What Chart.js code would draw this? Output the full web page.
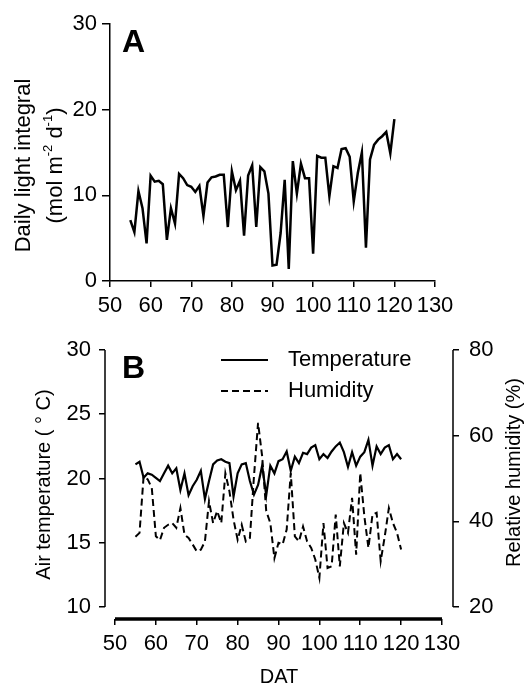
<!DOCTYPE html>
<html>
<head>
<meta charset="utf-8">
<script src="https://cdn.jsdelivr.net/npm/chart.js@4.4.1/dist/chart.umd.min.js"></script>
<style>
  html, body { margin: 0; padding: 0; background: #fff; }
  #wrap { position: relative; width: 527px; height: 686px; }
  canvas { position: absolute; left: 0; }
  #chartA { top: 0; }
  #chartB { top: 320px; }
</style>
</head>
<body>
<div id="wrap">
  <canvas id="chartA" width="527" height="320"></canvas>
  <canvas id="chartB" width="527" height="366"></canvas>
</div>
<script>
// days after transplanting
const days = [55, 56, 57, 58, 59, 60, 61, 62, 63, 64, 65, 66, 67, 68, 69, 70, 71, 72, 73, 74,
  75, 76, 77, 78, 79, 80, 81, 82, 83, 84, 85, 86, 87, 88, 89, 90, 91, 92, 93, 94,
  95, 96, 97, 98, 99, 100, 101, 102, 103, 104, 105, 106, 107, 108, 109, 110, 111, 112, 113, 114,
  115, 116, 117, 118, 119, 120];

// panel A: daily light integral (mol m-2 d-1)
const dli = [7.1, 5.7, 10.5, 8.5, 4.4, 12.3, 11.6, 11.7, 11.3, 4.8,
  8.5, 6.7, 12.5, 12.0, 11.2, 11.0, 10.4, 11.1, 7.6, 11.5,
  12.1, 12.2, 12.4, 12.4, 6.3, 12.8, 10.6, 11.7, 5.3, 12.3,
  13.5, 6.3, 13.3, 12.8, 10.2, 1.8, 1.9, 5.6, 11.8, 1.4,
  14.0, 10.2, 13.7, 12.0, 12.0, 3.2, 14.6, 14.4, 14.4, 9.9,
  13.4, 13.2, 15.4, 15.5, 14.5, 9.3, 12.6, 15.0, 3.9, 14.2,
  15.9, 16.5, 16.9, 17.4, 14.9, 18.9];

// panel B: air temperature (C) and relative humidity (%)
const temperature = [21.1, 21.3, 20.05, 20.4, 20.3, 20.05, 19.8, 20.4, 21.0, 20.4,
  20.8, 19.1, 20.4, 18.7, 19.4, 19.9, 20.6, 18.4, 19.8, 21.1,
  21.4, 21.5, 21.3, 21.2, 18.6, 20.4, 21.1, 21.2, 19.8, 18.75,
  19.5, 21.0, 18.7, 21.0, 20.4, 21.35, 21.5, 22.1, 20.6, 21.7,
  21.2, 22.0, 21.9, 22.4, 22.6, 21.5, 21.9, 21.6, 22.1, 22.5,
  22.8, 22.05, 20.9, 22.05, 21.0, 21.7, 22.05, 23.0, 21.0, 22.5,
  21.9, 22.4, 22.6, 21.5, 21.9, 21.5];

const humidity = [36.4, 37.3, 50.5, 49.8, 47.8, 36.5, 35.6, 38.5, 39.2, 39.6,
  38.5, 43.1, 36.9, 36.1, 34.6, 33.0, 33.4, 35.3, 44.7, 39.6,
  42.4, 39.6, 51.2, 47.0, 40.4, 35.7, 39.2, 35.3, 36.1, 50.5,
  63.0, 55.2, 42.4, 39.6, 31.4, 35.0, 34.6, 38.1, 51.3, 36.5,
  35.3, 38.8, 35.3, 33.8, 31.1, 26.8, 39.6, 29.1, 29.5, 41.6,
  29.5, 39.6, 37.3, 45.5, 32.2, 51.3, 41.2, 33.8, 41.6, 42.0,
  30.7, 36.5, 43.1, 39.6, 37.3, 33.4];

const dayTicks = [50, 60, 70, 80, 90, 100, 110, 120, 130];
const dliTicks = [0, 10, 20, 30];
const tempTicks = [10, 15, 20, 25, 30];
const humTicks = [20, 40, 60, 80];

const FAMILY = "'Liberation Sans', Arial, sans-serif";
const INK = '#000';

const toPoints = (ys) => days.map((d, i) => ({ x: d, y: ys[i] }));
const setTicks = (list) => (s) => { s.ticks = list.map(v => ({ value: v })); };

// panel letter (A / B)
const letterPlugin = (letter, dx, dy) => ({
  id: 'letter' + letter,
  afterDraw(chart) {
    const { ctx, chartArea } = chart;
    ctx.save();
    ctx.font = 'bold 32px ' + FAMILY;
    ctx.fillStyle = INK;
    ctx.textBaseline = 'alphabetic';
    ctx.fillText(letter, chartArea.left + dx, chartArea.top + dy);
    ctx.restore();
  }
});

// rotated title with superscripts, reading bottom to top
function drawRotated(ctx, lines, cx, cy, size, gap) {
  ctx.save();
  ctx.translate(cx, cy);
  ctx.rotate(-Math.PI / 2);
  ctx.fillStyle = INK;
  ctx.textBaseline = 'middle';
  ctx.textAlign = 'left';
  lines.forEach((parts, li) => {
    let total = 0;
    parts.forEach(p => {
      ctx.font = (p.sup ? Math.round(size * 0.6) : size) + 'px ' + FAMILY;
      total += ctx.measureText(p.t).width;
    });
    let x = -total / 2;
    parts.forEach(p => {
      ctx.font = (p.sup ? Math.round(size * 0.6) : size) + 'px ' + FAMILY;
      ctx.fillText(p.t, x, li * gap + (p.sup ? -size * 0.33 : 0));
      x += ctx.measureText(p.t).width;
    });
  });
  ctx.restore();
}

const dliTitle = {
  id: 'dliTitle',
  afterDraw(chart) {
    const { ctx, chartArea } = chart;
    drawRotated(ctx, [
      [{ t: 'Daily light integral' }],
      [{ t: '(mol m' }, { t: '-2', sup: true }, { t: ' d' }, { t: '-1', sup: true }, { t: ')' }]
    ], 24, (chartArea.top + chartArea.bottom) / 2 + 13, 22, 32);
  }
};

new Chart(document.getElementById('chartA'), {
  type: 'line',
  data: {
    datasets: [{
      label: 'DLI',
      data: toPoints(dli),
      borderColor: INK,
      borderWidth: 2.5,
      borderJoinStyle: 'miter',
      pointRadius: 0,
      tension: 0
    }]
  },
  options: {
    responsive: false,
    animation: false,
    devicePixelRatio: 1,
    layout: { padding: { top: 24, right: 92, left: 0, bottom: 0 } },
    plugins: { legend: { display: false }, tooltip: { enabled: false } },
    scales: {
      x: {
        type: 'linear', min: 50, max: 130,
        afterBuildTicks: setTicks(dayTicks),
        afterFit: (s) => { s.height = 39; },
        border: { display: true, color: INK, width: 1.5 },
        grid: { drawOnChartArea: false, tickLength: 6, color: INK, lineWidth: 1.5 },
        ticks: { font: { family: FAMILY, size: 22 }, color: INK, padding: 6, maxRotation: 0, autoSkip: false }
      },
      y: {
        type: 'linear', min: 0, max: 30,
        afterBuildTicks: setTicks(dliTicks),
        afterFit: (s) => { s.width = 110; },
        border: { display: true, color: INK, width: 1.5 },
        grid: { drawOnChartArea: false, tickLength: 8, color: INK, lineWidth: 1.5 },
        ticks: { font: { family: FAMILY, size: 22 }, color: INK, padding: 5 }
      }
    }
  },
  plugins: [letterPlugin('A', 12, 28), dliTitle]
});

// axis lines, legend and right title for panel B
const panelB = {
  id: 'panelB',
  afterDraw(chart) {
    const { ctx, chartArea, scales } = chart;
    const { x, y, y1 } = scales;
    ctx.save();
    ctx.strokeStyle = INK;
    ctx.lineCap = 'butt';
    ctx.lineWidth = 1.5;
    ctx.beginPath();
    ctx.moveTo(chartArea.left, y.getPixelForValue(tempTicks[0]));
    ctx.lineTo(chartArea.left, y.getPixelForValue(tempTicks[tempTicks.length - 1]));
    ctx.moveTo(chartArea.right, y1.getPixelForValue(humTicks[0]));
    ctx.lineTo(chartArea.right, y1.getPixelForValue(humTicks[humTicks.length - 1]));
    ctx.stroke();
    ctx.lineWidth = 3.5;
    ctx.beginPath();
    ctx.moveTo(x.getPixelForValue(dayTicks[0]), chartArea.bottom);
    ctx.lineTo(x.getPixelForValue(dayTicks[dayTicks.length - 1]), chartArea.bottom);
    ctx.stroke();

    // legend
    chart.data.datasets.forEach((ds, i) => {
      const ly = chartArea.top + 10 + i * 31;
      ctx.lineWidth = ds.borderWidth;
      ctx.setLineDash(ds.borderDash || []);
      ctx.beginPath();
      ctx.moveTo(221, ly);
      ctx.lineTo(268, ly);
      ctx.stroke();
      ctx.setLineDash([]);
      ctx.font = '22px ' + FAMILY;
      ctx.fillStyle = INK;
      ctx.textBaseline = 'middle';
      ctx.fillText(ds.label, 288, ly);
    });
    ctx.restore();

    drawRotated(ctx, [[{ t: 'Relative humidity (%)' }]], 514,
      (y1.getPixelForValue(humTicks[0]) + y1.getPixelForValue(humTicks[humTicks.length - 1])) / 2 - 6, 20, 0);
  }
};

new Chart(document.getElementById('chartB'), {
  type: 'line',
  data: {
    datasets: [{
      label: 'Temperature',
      data: toPoints(temperature),
      yAxisID: 'y',
      borderColor: INK,
      borderWidth: 2.2,
      borderJoinStyle: 'miter',
      pointRadius: 0,
      tension: 0
    }, {
      label: 'Humidity',
      data: toPoints(humidity),
      yAxisID: 'y1',
      borderColor: INK,
      borderWidth: 2,
      borderDash: [7, 4],
      borderJoinStyle: 'miter',
      pointRadius: 0,
      tension: 0
    }]
  },
  options: {
    responsive: false,
    animation: false,
    devicePixelRatio: 1,
    layout: { padding: { top: 30, right: 0, left: 0, bottom: 0 } },
    plugins: { legend: { display: false }, tooltip: { enabled: false } },
    scales: {
      x: {
        type: 'linear', min: 47.554, max: 132.691,
        afterBuildTicks: setTicks(dayTicks),
        afterFit: (s) => { s.height = 67; },
        border: { display: false },
        grid: { drawOnChartArea: false, tickLength: 6, color: INK, lineWidth: 1.5 },
        ticks: { font: { family: FAMILY, size: 22 }, color: INK, padding: 6, maxRotation: 0, autoSkip: false },
        title: { display: true, text: 'DAT', font: { family: FAMILY, size: 20 }, color: INK, padding: { top: 0, bottom: -3 } }
      },
      y: {
        type: 'linear', position: 'left', min: 9.066, max: 30,
        afterBuildTicks: setTicks(tempTicks),
        afterFit: (s) => { s.width = 105; },
        border: { display: false },
        grid: { drawOnChartArea: false, tickLength: 6, color: INK, lineWidth: 1.5 },
        ticks: { font: { family: FAMILY, size: 22 }, color: INK, padding: 8 },
        title: { display: true, text: 'Air temperature ( \u00b0 C)', font: { family: FAMILY, size: 20 }, color: INK, padding: { top: 32, bottom: 0 } }
      },
      y1: {
        type: 'linear', position: 'right', min: 17.198, max: 80,
        afterBuildTicks: setTicks(humTicks),
        afterFit: (s) => { s.width = 74; },
        border: { display: false },
        grid: { drawOnChartArea: false, tickLength: 6, color: INK, lineWidth: 1.5 },
        ticks: { font: { family: FAMILY, size: 22 }, color: INK, padding: 10 }
      }
    }
  },
  plugins: [letterPlugin('B', 17, 28), panelB]
});
</script>
</body>
</html>
